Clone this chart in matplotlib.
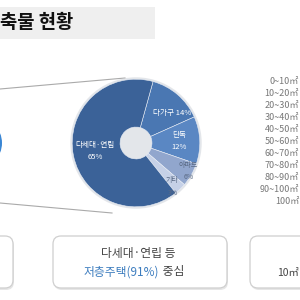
import numpy as np
import matplotlib
matplotlib.use('Agg')
import matplotlib.pyplot as plt
from matplotlib.patches import FancyBboxPatch, Rectangle, Circle

plt.rcParams['font.family'] = ['Noto Sans CJK KR', 'DejaVu Sans']

# donut data (clockwise from the top)
types = ['다가구', '단독', '아파트', '기타', '다세대·연립']
shares = [14, 12, 6, 3, 65]
slice_colors = ['#4a77b2', '#5a87c3', '#91a6cd', '#c6d1e7', '#3b6298']
label_colors = ['white', 'white', '#5a6a85', '#5a6a85', 'white']
one_line = [True, False, False, False, False]

# right hand list (cut by the picture edge)
area_bands = ['0~10㎡', '10~20㎡', '20~30㎡', '30~40㎡', '40~50㎡',
              '50~60㎡', '60~70㎡', '70~80㎡', '80~90㎡', '90~100㎡', '100㎡']

fig = plt.figure(figsize=(3, 3), dpi=100)
base = fig.add_axes([0, 0, 1, 1])
base.set_xlim(0, 300)
base.set_ylim(300, 0)
base.axis('off')

# title bar
base.add_patch(Rectangle((0, 7), 155, 32, color='#efefef', lw=0))
base.text(0, 23, '축물 현황', ha='left', va='center', fontsize=13.5,
          fontweight='heavy', color='#111111')

# zoom lines from the small circle on the left
base.plot([0, 125], [89, 78], color='#aaaaaa', lw=0.8)
base.plot([0, 112], [203, 213], color='#aaaaaa', lw=0.8)
base.add_patch(Circle((-24, 143), 26, color='#3a86d4', lw=0))

# area list
for i, band in enumerate(area_bands):
    base.text(299, 81 + i * 12.1, band, ha='right', va='center',
              fontsize=6.5, color='#777777')

# bottom boxes
for x0, x1 in [(-60, 13), (53, 227), (250, 360)]:
    base.add_patch(FancyBboxPatch((x0 + 1, 238), x1 - x0, 52,
                                  boxstyle='round,pad=0,rounding_size=8',
                                  fc='#e6e6e6', ec='none'))
    base.add_patch(FancyBboxPatch((x0, 236), x1 - x0, 52,
                                  boxstyle='round,pad=0,rounding_size=8',
                                  fc='white', ec='#cfcfcf', lw=0.9))
base.text(138, 253, '다세대·연립 등', ha='center', va='center',
          fontsize=8.5, color='#444444')
t1 = base.text(84, 272, '저층주택(91%)', ha='left', va='center',
               fontsize=8.5, color='#3d7dbf')
base.annotate(' 중심', xy=(1, 0.5), xycoords=t1, ha='left', va='center',
              fontsize=8.5, color='#444444')
base.text(277, 273, '10㎡', ha='left', va='center', fontsize=7.5, color='#444444')

# donut
cx, cy, R = 136, 143, 67
pie_ax = fig.add_axes([(cx - R) / 300, 1 - (cy + R) / 300, 2 * R / 300, 2 * R / 300])
pie_ax.add_patch(Circle((0, 0), 1.03, color='#c9ced6', alpha=0.5, lw=0))
wedges, _ = pie_ax.pie(shares, colors=slice_colors, startangle=74.5,
                       counterclock=False, radius=1,
                       wedgeprops=dict(width=0.75, edgecolor='#e8edf5', linewidth=0.4))
pie_ax.set_xlim(-1.05, 1.05)
pie_ax.set_ylim(-1.05, 1.05)
pie_ax.patch.set_visible(False)

label_r = [0.73, 0.68, 0.93, 0.89, 0.65]
angle_shift = [-10, 0, 2, -4, 0]
label_size = [5.5, 5.5, 5, 5, 5.5]
for w, name, share, r, da, c, single, fs in zip(wedges, types, shares, label_r,
                                                angle_shift, label_colors,
                                                one_line, label_size):
    mid = np.deg2rad((w.theta1 + w.theta2) / 2 + da)
    txt = f'{name} {share}%' if single else f'{name}\n{share}%'
    pie_ax.text(r * np.cos(mid), r * np.sin(mid), txt, ha='center', va='center',
                fontsize=fs, color=c, linespacing=1.7)

fig.savefig('out.png', dpi=100)
